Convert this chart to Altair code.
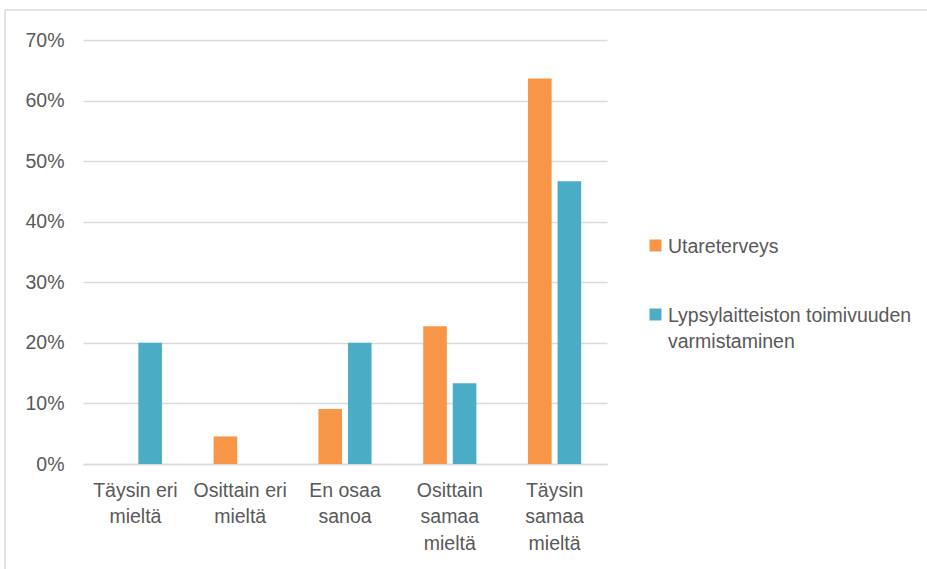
import altair as alt
import pandas as pd

# Survey answers (share of respondents) for two topics
categories = [
    "Täysin eri mieltä",
    "Osittain eri mieltä",
    "En osaa sanoa",
    "Osittain samaa mieltä",
    "Täysin samaa mieltä",
]
category_lines = [
    ["Täysin eri", "mieltä"],
    ["Osittain eri", "mieltä"],
    ["En osaa", "sanoa"],
    ["Osittain", "samaa", "mieltä"],
    ["Täysin", "samaa", "mieltä"],
]
series = ["Utareterveys", "Lypsylaitteiston toimivuuden varmistaminen"]
utareterveys = [0.0, 0.0455, 0.0909, 0.2273, 0.6364]
lypsylaitteisto = [0.2, 0.0, 0.2, 0.1333, 0.4667]
colors = ["#F79646", "#4BACC6"]

TEXT = "#595959"
GRID = "#D9D9D9"
FONT = "Liberation Sans"
FS = 19.5

rows = []
for cat, a, b in zip(categories, utareterveys, lypsylaitteisto):
    rows.append({"category": cat, "series": series[0], "value": a})
    rows.append({"category": cat, "series": series[1], "value": b})
df = pd.DataFrame(rows)

# multi-line tick labels for the category axis
label_expr = "''"
for cat, lines in reversed(list(zip(categories, category_lines))):
    arr = "[" + ", ".join("'" + s + "'" for s in lines) + "]"
    label_expr = f"datum.label == '{cat}' ? {arr} : ({label_expr})"

color = alt.Color(
    "series:N",
    scale=alt.Scale(domain=series, range=colors),
    legend=None,
)

bars = alt.Chart(df).mark_bar().encode(
    x=alt.X(
        "category:N",
        sort=categories,
        scale=alt.Scale(paddingInner=0.493, paddingOuter=0.2465),
        axis=alt.Axis(
            title=None,
            labelAngle=0,
            labelExpr=label_expr,
            labelBaseline="top",
            labelPadding=17,
            labelLineHeight=26.5,
            labelFontSize=FS,
            labelColor=TEXT,
            labelFont=FONT,
            labelLimit=0,
            ticks=False,
            domainColor=GRID,
            domainWidth=1.5,
        ),
    ),
    xOffset=alt.XOffset(
        "series:N", sort=series, scale=alt.Scale(paddingInner=0.2, paddingOuter=0)
    ),
    y=alt.Y(
        "value:Q",
        scale=alt.Scale(domain=[0, 0.7], nice=False),
        axis=alt.Axis(
            title=None,
            format=".0%",
            values=[0, 0.1, 0.2, 0.3, 0.4, 0.5, 0.6, 0.7],
            domain=False,
            ticks=False,
            labelPadding=19,
            labelFontSize=FS,
            labelColor=TEXT,
            labelFont=FONT,
            gridColor=GRID,
            gridWidth=1.5,
        ),
    ),
    color=color,
)

legend_df = pd.DataFrame({"series": series})
legend_y = alt.Y(
    "series:N",
    scale=alt.Scale(domain=series, range=[205.5, 274.5], padding=0),
    axis=None,
)
legend_sym = alt.Chart(legend_df).mark_square(size=144, opacity=1).encode(
    x=alt.value(572.5), y=legend_y, color=color
)
legend_txt = (
    alt.Chart(legend_df)
    .transform_calculate(
        label="replace(datum.series, 'toimivuuden ', 'toimivuuden\\n')"
    )
    .mark_text(
        align="left",
        baseline="alphabetic",
        dy=7,
        lineBreak="\n",
        lineHeight=26,
        fontSize=FS,
        font=FONT,
        color=TEXT,
    )
    .encode(x=alt.value(585), y=legend_y, text="label:N")
)

one = pd.DataFrame({"k": [0]})
frame_left = alt.Chart(one).mark_rule(color=GRID, strokeWidth=1.5).encode(
    x=alt.value(-78), y=alt.value(-30), y2=alt.value(540)
)
frame_top = alt.Chart(one).mark_rule(color=GRID, strokeWidth=1.5).encode(
    x=alt.value(-78), x2=alt.value(850), y=alt.value(-30)
)

chart = (
    alt.layer(frame_left, frame_top, bars, legend_sym, legend_txt)
    .resolve_scale(y="independent")
    .properties(
        width=524,
        height=424,
        autosize=alt.AutoSizeParams(type="none"),
        padding={"left": 83, "top": 40, "right": 320, "bottom": 105},
        background="white",
    )
    .configure_view(stroke=None)
)

chart.save("out.html", embed_options={"renderer": "svg", "actions": False})
